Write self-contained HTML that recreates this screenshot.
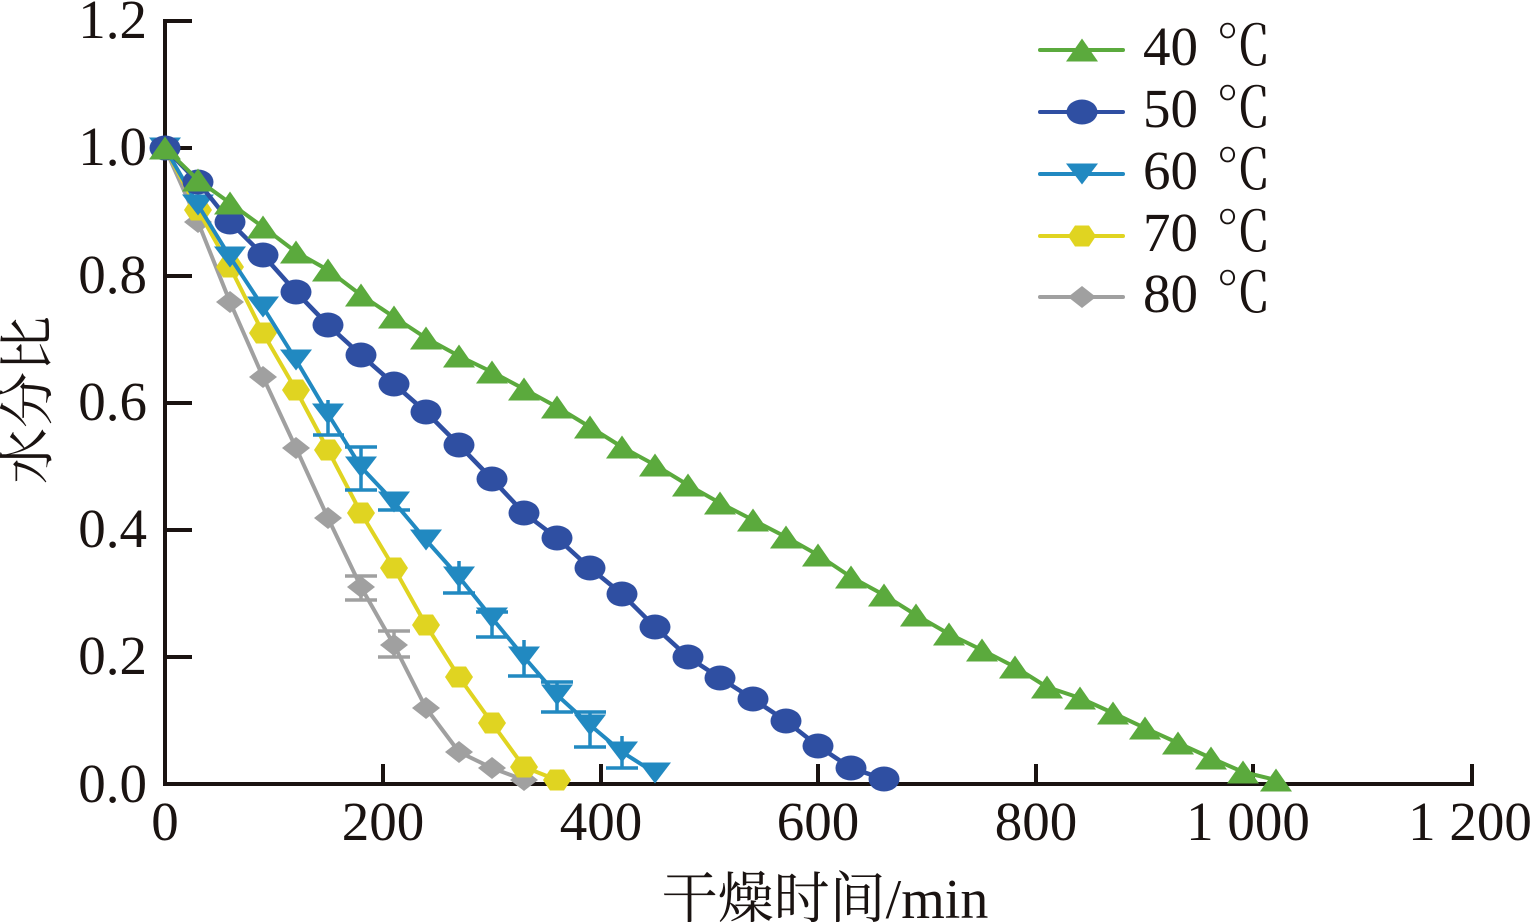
<!DOCTYPE html>
<html>
<head>
<meta charset="utf-8">
<style>
html,body{margin:0;padding:0;background:#fff;}
svg{display:block;}
</style>
</head>
<body>
<svg width="1533" height="922" viewBox="0 0 1533 922" xmlns="http://www.w3.org/2000/svg">
<defs>
<marker id="mG" markerWidth="40" markerHeight="40" refX="20" refY="20" markerUnits="userSpaceOnUse" overflow="visible"><polygon points="4,31.5 36,31.5 20,8.5" fill="#5BAA3D"/></marker>
<marker id="mB" markerWidth="40" markerHeight="40" refX="20" refY="20" markerUnits="userSpaceOnUse" overflow="visible"><ellipse cx="20" cy="20" rx="15.5" ry="12.5" fill="#2F4FA2"/></marker>
<marker id="mC" markerWidth="40" markerHeight="40" refX="20" refY="20" markerUnits="userSpaceOnUse" overflow="visible"><polygon points="4,9.5 36,9.5 20,30.5" fill="#2189C1"/></marker>
<marker id="mY" markerWidth="40" markerHeight="40" refX="20" refY="20" markerUnits="userSpaceOnUse" overflow="visible"><polygon points="6,20 13,9.5 27,9.5 34,20 27,30.5 13,30.5" fill="#E0D421"/></marker>
<marker id="mK" markerWidth="40" markerHeight="40" refX="20" refY="20" markerUnits="userSpaceOnUse" overflow="visible"><polygon points="6,20 20,9 34,20 20,31" fill="#A0A0A0"/></marker>
</defs>
<rect width="1533" height="922" fill="#fff"/>

<!-- axes -->
<g stroke="#1a1311" stroke-width="4" fill="none">
<line x1="165" y1="19" x2="165" y2="786"/>
<line x1="163" y1="784" x2="1474" y2="784"/>
<line x1="165" y1="21" x2="192" y2="21"/>
<line x1="165" y1="148" x2="192" y2="148"/>
<line x1="165" y1="276" x2="192" y2="276"/>
<line x1="165" y1="403" x2="192" y2="403"/>
<line x1="165" y1="530" x2="192" y2="530"/>
<line x1="165" y1="657" x2="192" y2="657"/>
<line x1="383" y1="784" x2="383" y2="764"/>
<line x1="601" y1="784" x2="601" y2="764"/>
<line x1="818" y1="784" x2="818" y2="764"/>
<line x1="1036" y1="784" x2="1036" y2="764"/>
<line x1="1253" y1="784" x2="1253" y2="764"/>
<line x1="1472" y1="784" x2="1472" y2="764"/>
</g>

<!-- y tick labels -->
<text x="147" y="38" text-anchor="end" font-family="'Liberation Serif', 'Times New Roman', serif" font-size="55" fill="#1a1311">1.2</text>
<text x="147" y="165" text-anchor="end" font-family="'Liberation Serif', 'Times New Roman', serif" font-size="55" fill="#1a1311">1.0</text>
<text x="147" y="293" text-anchor="end" font-family="'Liberation Serif', 'Times New Roman', serif" font-size="55" fill="#1a1311">0.8</text>
<text x="147" y="420" text-anchor="end" font-family="'Liberation Serif', 'Times New Roman', serif" font-size="55" fill="#1a1311">0.6</text>
<text x="147" y="547" text-anchor="end" font-family="'Liberation Serif', 'Times New Roman', serif" font-size="55" fill="#1a1311">0.4</text>
<text x="147" y="674" text-anchor="end" font-family="'Liberation Serif', 'Times New Roman', serif" font-size="55" fill="#1a1311">0.2</text>
<text x="147" y="802" text-anchor="end" font-family="'Liberation Serif', 'Times New Roman', serif" font-size="55" fill="#1a1311">0.0</text>

<!-- x tick labels -->
<text x="165" y="840" text-anchor="middle" font-family="'Liberation Serif', 'Times New Roman', serif" font-size="55" fill="#1a1311">0</text>
<text x="383" y="840" text-anchor="middle" font-family="'Liberation Serif', 'Times New Roman', serif" font-size="55" fill="#1a1311">200</text>
<text x="601" y="840" text-anchor="middle" font-family="'Liberation Serif', 'Times New Roman', serif" font-size="55" fill="#1a1311">400</text>
<text x="818" y="840" text-anchor="middle" font-family="'Liberation Serif', 'Times New Roman', serif" font-size="55" fill="#1a1311">600</text>
<text x="1036" y="840" text-anchor="middle" font-family="'Liberation Serif', 'Times New Roman', serif" font-size="55" fill="#1a1311">800</text>
<text x="1248" y="840" text-anchor="middle" font-family="'Liberation Serif', 'Times New Roman', serif" font-size="55" fill="#1a1311">1 000</text>
<text x="1470" y="840" text-anchor="middle" font-family="'Liberation Serif', 'Times New Roman', serif" font-size="55" fill="#1a1311">1 200</text>

<!-- axis titles -->
<text x="825" y="918" text-anchor="middle" font-size="56" fill="#1a1311"><tspan font-family="'Noto Serif CJK SC', serif">干燥时间</tspan><tspan font-family="'Liberation Serif', 'Times New Roman', serif">/min</tspan></text>
<text transform="translate(47,400) rotate(-90)" text-anchor="middle" font-family="'Noto Serif CJK SC', serif" font-size="56" fill="#1a1311">水分比</text>

<!-- 80 C -->
<polyline fill="none" stroke="#A0A0A0" stroke-width="4" stroke-linejoin="round" marker-start="url(#mK)" marker-mid="url(#mK)" marker-end="url(#mK)"
 points="165,148 198,222 230,302 263,377 296,448 328,518 361,587 394,645 426,708 459,752 492,768 524,780"/>
<g stroke="#A0A0A0" stroke-width="3.5">
<line x1="361" y1="576" x2="361" y2="600"/><line x1="345" y1="576" x2="377" y2="576"/><line x1="345" y1="600" x2="377" y2="600"/>
<line x1="394" y1="631" x2="394" y2="657"/><line x1="378" y1="631" x2="410" y2="631"/><line x1="378" y1="657" x2="410" y2="657"/>
</g>

<!-- 70 C -->
<polyline fill="none" stroke="#E0D421" stroke-width="4" stroke-linejoin="round" marker-start="url(#mY)" marker-mid="url(#mY)" marker-end="url(#mY)"
 points="165,148 198,210 230,267 263,333 296,390 328,450 361,513 394,568 426,625 459,677 492,723 524,767 557,780"/>

<!-- 60 C -->
<g stroke="#2189C1" stroke-width="3.5">
<line x1="328" y1="400" x2="328" y2="435"/><line x1="313" y1="435" x2="344" y2="435"/>
<line x1="361" y1="447" x2="361" y2="490"/><line x1="345" y1="447" x2="377" y2="447"/><line x1="345" y1="490" x2="377" y2="490"/>
<line x1="394" y1="494" x2="394" y2="510"/><line x1="378" y1="510" x2="410" y2="510"/>
<line x1="459" y1="561" x2="459" y2="593"/><line x1="443" y1="593" x2="475" y2="593"/>
<line x1="492" y1="612" x2="492" y2="637"/><line x1="476" y1="612" x2="508" y2="612"/><line x1="476" y1="637" x2="508" y2="637"/>
<line x1="524" y1="640" x2="524" y2="676"/><line x1="508" y1="676" x2="540" y2="676"/>
<line x1="557" y1="682" x2="557" y2="712"/><line x1="541" y1="682" x2="573" y2="682"/><line x1="541" y1="712" x2="573" y2="712"/>
<line x1="590" y1="712" x2="590" y2="747"/><line x1="574" y1="712" x2="606" y2="712"/><line x1="574" y1="747" x2="606" y2="747"/>
<line x1="622" y1="736" x2="622" y2="768"/><line x1="606" y1="768" x2="638" y2="768"/>
</g>
<polyline fill="none" stroke="#2189C1" stroke-width="4" stroke-linejoin="round" marker-start="url(#mC)" marker-mid="url(#mC)" marker-end="url(#mC)"
 points="165,148 198,205 230,257 263,307 296,360 328,414 361,467 394,502 426,540 459,577 492,618 524,657 557,695 590,725 622,752 655,773"/>

<!-- 50 C -->
<polyline fill="none" stroke="#2F4FA2" stroke-width="4.5" stroke-linejoin="round" marker-start="url(#mB)" marker-mid="url(#mB)" marker-end="url(#mB)"
 points="165,148 198,182 230,222 263,255 296,292 328,325 361,355 394,384 426,412 459,445 492,479 524,513 557,538 590,568 622,594 655,627 688,657 720,678 753,699 786,721 818,746 851,768 884,779"/>

<!-- 40 C -->
<polyline fill="none" stroke="#5BAA3D" stroke-width="4" stroke-linejoin="round" marker-start="url(#mG)" marker-mid="url(#mG)" marker-end="url(#mG)"
 points="165,148 198,180 230,203 263,227 296,252 328,270 361,295 394,317 426,338 459,356 492,372 524,389 557,407 590,427 622,447 655,465 688,485 720,503 753,520 786,537 818,555 851,577 884,595 916,615 949,634 982,650 1015,667 1047,687 1080,698 1113,713 1145,728 1178,743 1211,758 1243,772 1276,780"/>

<!-- legend -->
<g fill="none" stroke-width="4" stroke-linecap="round">
<polyline stroke="#5BAA3D" points="1040,50 1082,50 1123,50" marker-mid="url(#mG)"/>
<polyline stroke="#2F4FA2" points="1040,112 1082,112 1123,112" marker-mid="url(#mB)"/>
<polyline stroke="#2189C1" points="1040,174 1082,174 1123,174" marker-mid="url(#mC)"/>
<polyline stroke="#E0D421" points="1040,236 1082,236 1123,236" marker-mid="url(#mY)"/>
<polyline stroke="#A0A0A0" points="1040,297 1082,297 1123,297" marker-mid="url(#mK)"/>
</g>
<text x="1143" y="65" font-family="'Liberation Serif', 'Times New Roman', serif" font-size="55" fill="#1a1311">40</text>
<text x="1216" y="65" font-family="'Noto Serif CJK SC', serif" font-size="55" fill="#1a1311">℃</text>
<text x="1143" y="127" font-family="'Liberation Serif', 'Times New Roman', serif" font-size="55" fill="#1a1311">50</text>
<text x="1216" y="127" font-family="'Noto Serif CJK SC', serif" font-size="55" fill="#1a1311">℃</text>
<text x="1143" y="189" font-family="'Liberation Serif', 'Times New Roman', serif" font-size="55" fill="#1a1311">60</text>
<text x="1216" y="189" font-family="'Noto Serif CJK SC', serif" font-size="55" fill="#1a1311">℃</text>
<text x="1143" y="251" font-family="'Liberation Serif', 'Times New Roman', serif" font-size="55" fill="#1a1311">70</text>
<text x="1216" y="251" font-family="'Noto Serif CJK SC', serif" font-size="55" fill="#1a1311">℃</text>
<text x="1143" y="312" font-family="'Liberation Serif', 'Times New Roman', serif" font-size="55" fill="#1a1311">80</text>
<text x="1216" y="312" font-family="'Noto Serif CJK SC', serif" font-size="55" fill="#1a1311">℃</text>
</svg>
</body>
</html>
